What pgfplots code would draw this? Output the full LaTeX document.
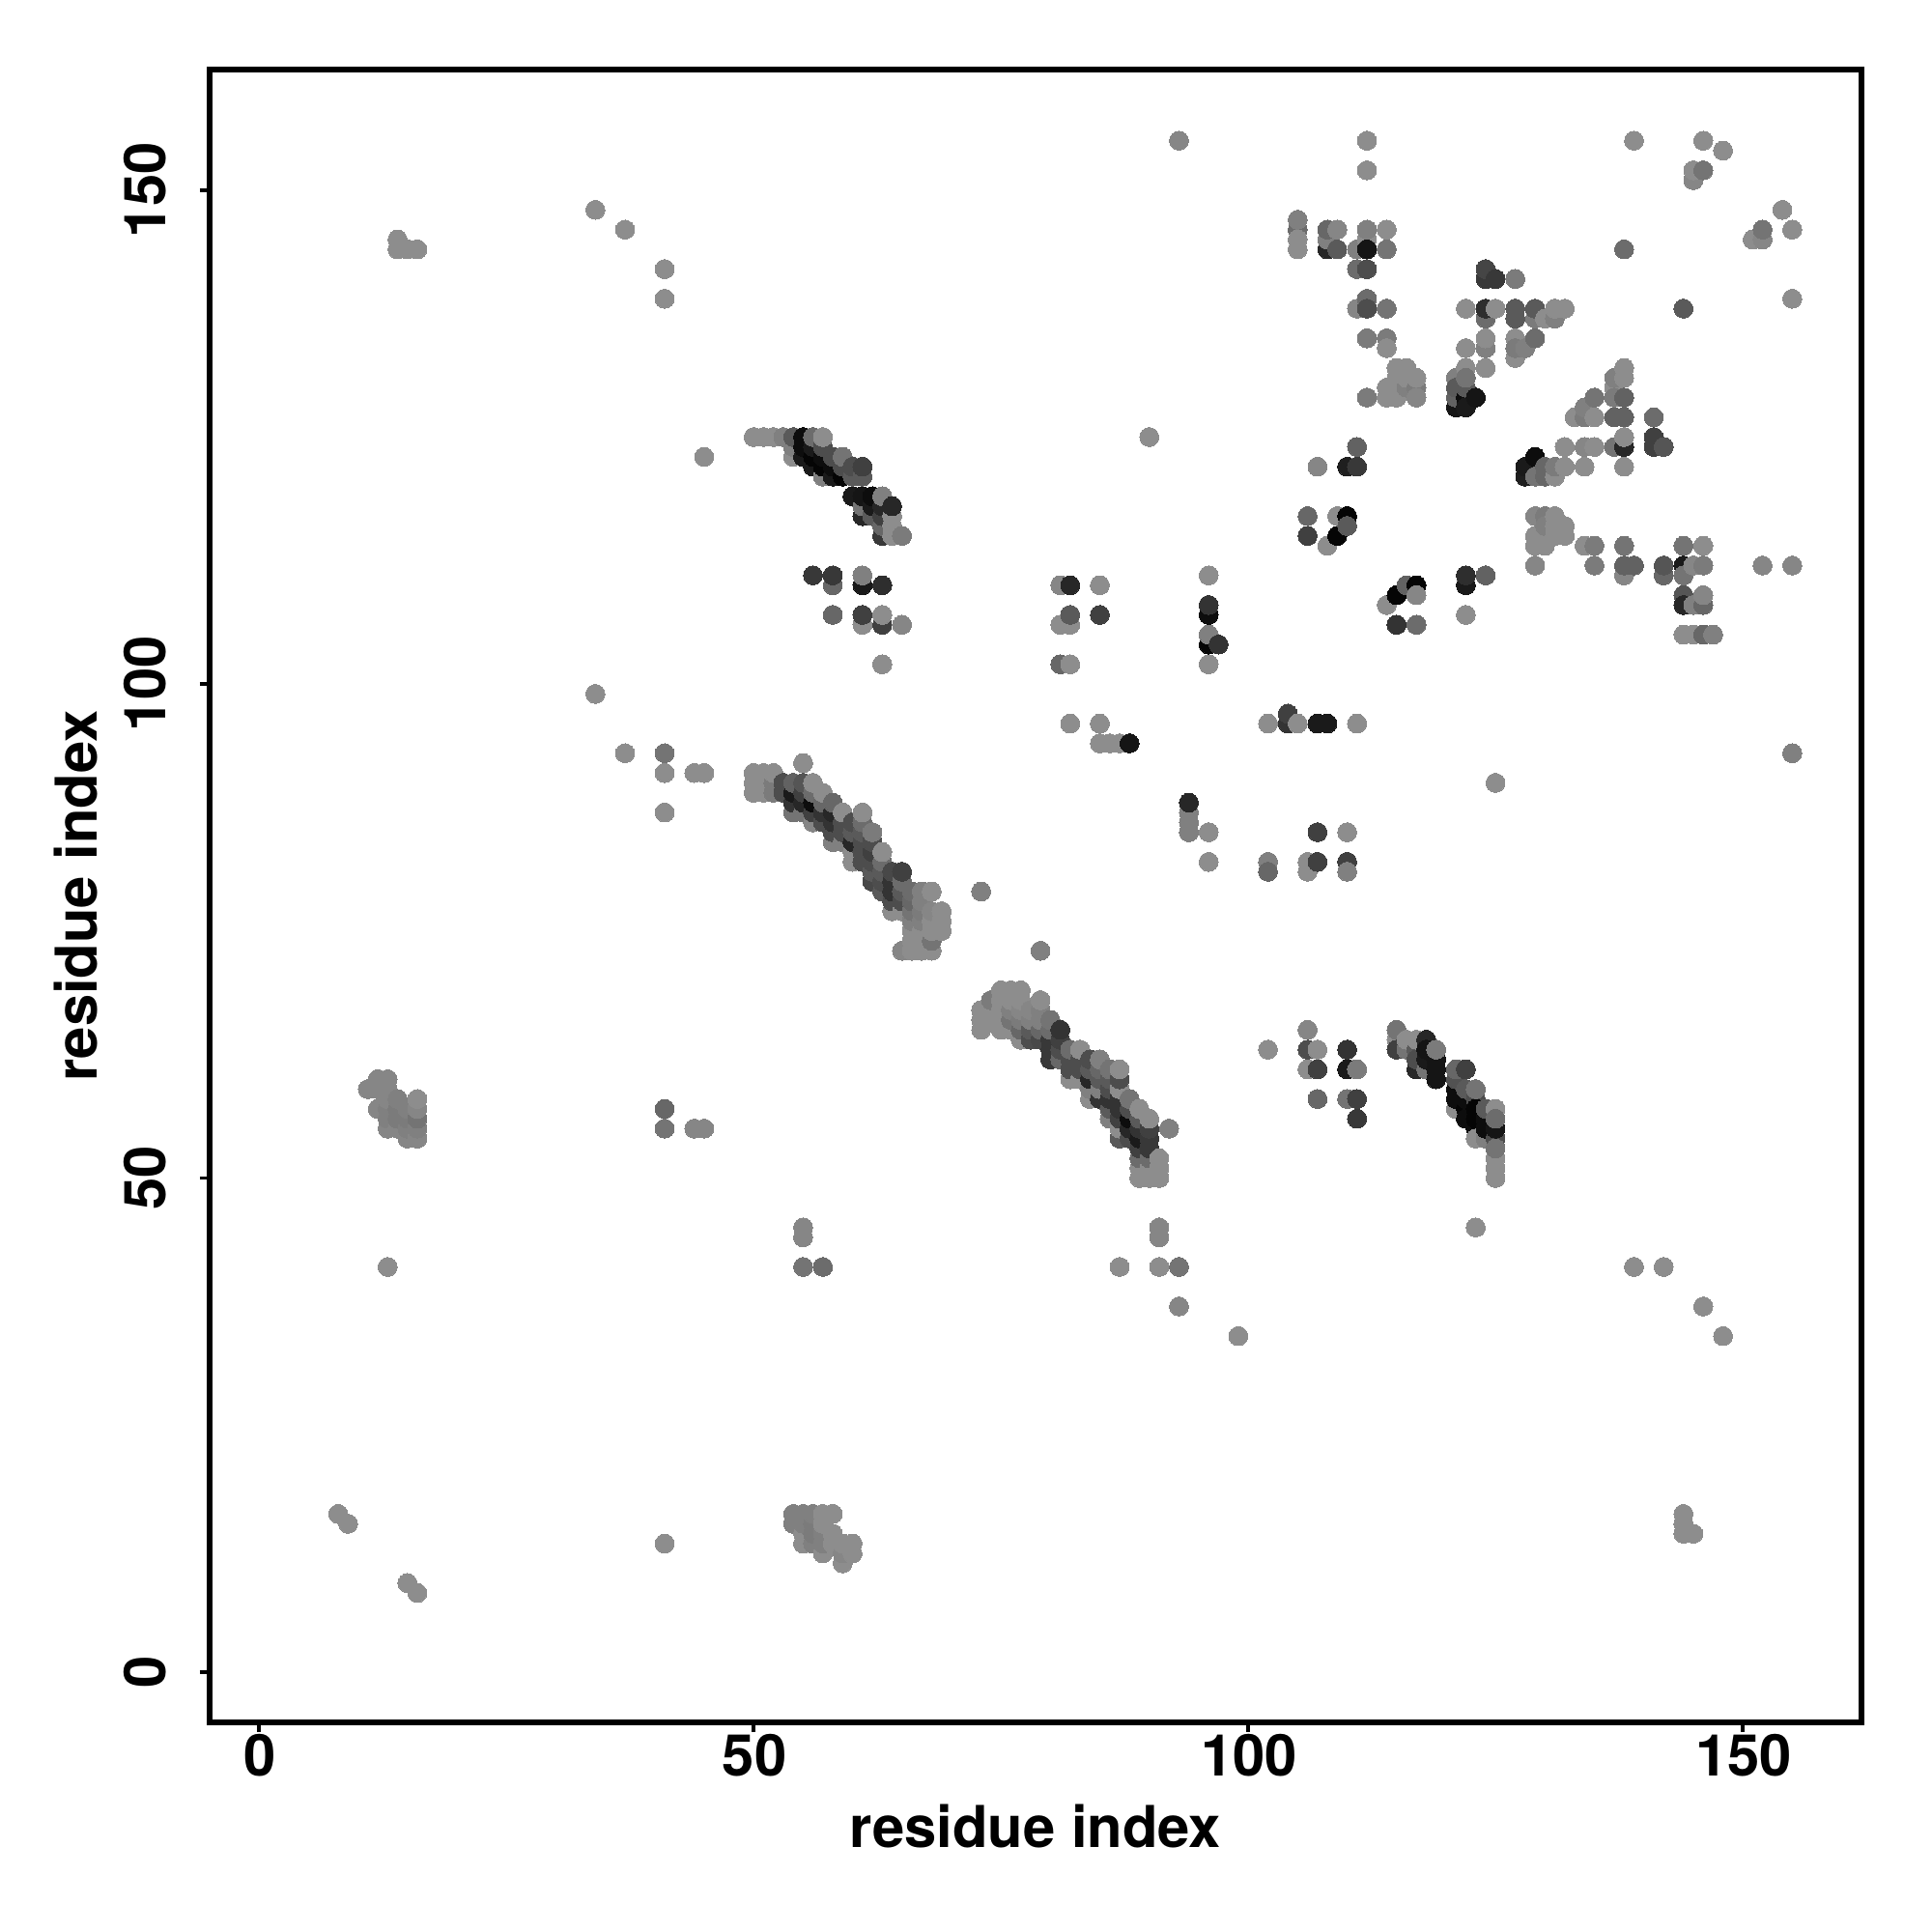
\documentclass[border=0pt]{standalone}
\usepackage{fontspec}
\setmainfont{TeX Gyre Heros}
\usepackage{pgfplots}
\usepackage{pgfplotstable}
\pgfplotsset{compat=1.18}
\pgfplotstableread[row sep=\\]{
x y g\\
8 16 55\\ 9 15 55\\ 15 9 55\\ 16 8 55\\ 13 41 55\\ 41 13 55\\
54 16 50\\ 55 16 50\\ 56 16 50\\ 57 16 55\\ 58 16 55\\ 54 15 50\\ 55 15 50\\ 56 15 48\\ 57 15 55\\
55 14 55\\ 56 14 48\\ 57 14 50\\ 58 14 55\\ 55 13 55\\ 56 13 50\\ 57 13 50\\ 58 13 55\\ 59 13 55\\ 60 13 55\\
57 12 55\\ 59 12 52\\ 60 12 55\\ 59 11 55\\
11 59 52\\ 12 60 52\\ 12 59 52\\ 12 57 52\\ 13 60 52\\ 13 59 52\\ 13 58 52\\ 13 57 50\\ 13 56 50\\ 13 55 52\\
14 58 50\\ 14 57 48\\ 14 56 48\\ 14 55 52\\ 15 57 50\\ 15 56 48\\ 15 55 50\\ 15 54 52\\
16 58 55\\ 16 57 52\\ 16 56 45\\ 16 55 50\\ 16 54 52\\
14 145 55\\ 14 144 55\\ 15 144 55\\ 16 144 55\\ 34 148 55\\ 37 146 55\\ 41 142 55\\ 41 139 55\\
34 99 55\\ 37 93 55\\ 41 93 45\\ 41 91 55\\ 44 91 55\\ 45 91 55\\ 41 87 55\\ 45 123 55\\
41 57 40\\ 41 55 45\\ 44 55 52\\ 45 55 52\\ 55 45 52\\ 55 44 52\\ 55 41 45\\ 57 41 42\\
87 41 55\\ 91 45 52\\ 91 44 52\\ 91 41 55\\ 93 41 45\\ 93 37 52\\ 99 34 55\\ 123 45 55\\
139 41 55\\ 142 41 55\\ 146 37 55\\ 148 34 55\\ 144 16 55\\ 144 15 55\\ 144 14 55\\ 145 14 55\\
92 55 50\\ 73 79 50\\ 79 73 50\\ 125 90 55\\ 155 93 50\\ 55 92 55\\ 90 125 55\\ 93 155 52\\
112 155 55\\ 112 152 55\\ 139 155 55\\ 146 155 55\\ 148 154 55\\ 145 152 55\\ 146 152 45\\ 145 151 52\\
151 145 55\\ 152 145 52\\ 152 146 45\\ 154 148 55\\ 155 146 55\\ 155 139 55\\ 138 144 42\\ 144 138 35\\
105 147 50\\ 105 146 42\\ 105 145 55\\ 105 144 55\\
108 146 40\\ 108 145 50\\ 108 144 15\\ 109 146 52\\ 109 144 35\\ 111 144 50\\ 112 146 50\\ 112 145 55\\ 112 144 8\\ 114 146 55\\ 114 144 45\\
111 142 42\\ 112 142 30\\ 112 139 42\\ 111 138 52\\ 112 138 30\\ 114 138 45\\ 112 135 48\\ 114 135 48\\ 114 134 55\\
112 129 48\\ 114 130 55\\ 114 129 55\\ 115 132 55\\ 115 131 55\\ 115 129 55\\ 116 132 55\\ 116 131 55\\ 116 130 50\\ 117 131 55\\ 117 130 48\\ 117 129 52\\
124 142 27\\ 124 141 22\\ 125 141 22\\ 127 141 48\\
122 138 55\\ 124 138 18\\ 125 138 55\\ 127 138 35\\ 129 138 35\\ 131 138 55\\ 132 138 55\\
124 137 42\\ 127 137 35\\ 129 137 48\\ 130 137 55\\ 131 137 50\\
124 135 55\\ 127 135 55\\ 129 135 42\\ 122 134 55\\ 124 134 50\\ 127 134 48\\ 128 134 50\\ 127 133 55\\ 122 132 55\\ 124 132 55\\
121 131 50\\ 122 131 45\\ 121 130 35\\ 122 130 35\\ 121 129 38\\ 122 129 5\\ 123 129 8\\ 121 128 8\\ 122 128 10\\
138 132 55\\ 138 131 55\\ 137 131 50\\ 137 130 55\\ 138 129 38\\ 137 129 48\\ 135 129 45\\ 134 128 50\\ 133 127 55\\ 134 127 48\\ 135 127 55\\ 137 127 38\\ 138 127 38\\ 141 127 42\\
138 125 55\\ 132 124 55\\ 134 124 52\\ 135 124 55\\ 137 124 45\\ 138 124 15\\ 141 125 25\\ 141 124 25\\ 142 124 33\\
129 123 5\\ 128 122 10\\ 129 122 10\\ 130 122 40\\ 131 122 48\\ 132 122 55\\ 134 122 55\\ 138 122 55\\ 128 121 12\\ 129 121 45\\ 130 121 40\\ 131 121 55\\
129 117 52\\ 130 117 48\\ 131 117 55\\ 130 116 50\\ 131 116 55\\ 132 116 55\\ 129 115 55\\ 131 115 55\\ 132 115 55\\ 129 114 55\\ 130 114 55\\ 134 114 55\\ 135 114 48\\ 138 114 45\\ 144 114 45\\ 146 114 55\\
129 112 52\\ 135 112 48\\ 138 112 38\\ 139 112 38\\ 142 112 33\\ 144 112 10\\ 145 112 52\\ 146 112 48\\ 138 111 52\\ 142 111 40\\ 144 111 45\\ 152 112 52\\ 155 112 52\\
144 109 33\\ 146 109 52\\ 144 108 15\\ 145 108 50\\ 146 108 40\\ 144 105 55\\ 145 105 55\\ 146 105 40\\ 147 105 50\\
111 124 38\\ 110 122 12\\ 111 122 22\\ 107 122 52\\ 109 117 55\\ 110 117 2\\ 110 116 35\\ 109 115 2\\ 108 114 55\\ 106 117 40\\ 106 115 25\\
115 109 2\\ 114 108 55\\ 116 110 38\\ 117 110 2\\ 117 109 52\\ 115 106 20\\ 117 106 42\\ 122 111 18\\ 122 110 10\\ 124 111 38\\ 122 107 55\\
56 111 22\\ 58 111 22\\ 58 110 40\\ 61 111 50\\ 61 110 10\\ 63 110 18\\ 58 107 40\\ 61 107 25\\ 61 106 55\\ 63 107 55\\ 63 106 25\\ 65 106 52\\ 63 102 55\\
50 125 55\\ 51 125 55\\ 52 125 55\\ 53 125 50\\ 54 125 35\\ 55 125 5\\ 56 125 42\\ 57 125 55\\
54 124 50\\ 55 124 5\\ 56 124 10\\ 57 124 30\\ 54 123 55\\ 55 123 10\\ 56 123 2\\ 57 123 5\\ 58 123 30\\ 59 123 45\\
56 122 10\\ 57 122 2\\ 58 122 5\\ 59 122 30\\ 60 122 30\\ 61 122 25\\ 57 121 50\\ 58 121 10\\ 59 121 2\\ 60 121 35\\ 61 121 35\\
60 119 10\\ 61 119 8\\ 62 119 5\\ 63 119 50\\ 61 118 45\\ 62 118 10\\ 63 118 15\\ 64 118 15\\ 61 117 15\\ 62 117 35\\ 63 117 25\\ 64 117 55\\ 63 116 40\\ 64 116 55\\ 63 115 22\\ 64 115 55\\ 65 115 48\\
50 91 55\\ 51 91 55\\ 52 91 55\\ 50 90 55\\ 51 90 55\\ 52 90 48\\ 53 90 30\\ 54 90 38\\ 55 90 33\\ 56 90 55\\
50 89 55\\ 51 89 55\\ 52 89 48\\ 53 89 30\\ 54 89 10\\ 55 89 25\\ 56 89 42\\ 57 89 55\\ 54 88 20\\ 55 88 15\\ 56 88 5\\ 57 88 40\\ 58 88 40\\
54 87 45\\ 55 87 45\\ 56 87 25\\ 57 87 20\\ 58 87 15\\ 59 87 55\\ 61 87 55\\ 56 86 52\\ 57 86 30\\ 58 86 20\\ 59 86 30\\ 60 86 30\\ 61 86 42\\
58 85 30\\ 59 85 30\\ 60 85 35\\ 61 85 35\\ 62 85 48\\ 58 84 50\\ 59 84 50\\ 60 84 15\\ 61 84 30\\ 62 84 30\\ 60 83 55\\ 61 83 30\\ 62 83 25\\ 63 83 55\\
60 82 55\\ 61 82 30\\ 62 82 30\\ 63 82 42\\ 62 81 35\\ 63 81 35\\ 64 81 28\\ 65 81 25\\ 62 80 28\\ 63 80 30\\ 64 80 20\\ 65 80 42\\
63 79 35\\ 64 79 20\\ 65 79 35\\ 66 79 42\\ 67 79 50\\ 68 79 55\\ 64 78 30\\ 65 78 30\\ 66 78 40\\ 67 78 50\\
64 77 55\\ 65 77 55\\ 66 77 45\\ 67 77 48\\ 68 77 52\\ 69 77 55\\ 66 76 50\\ 67 76 50\\ 68 76 55\\ 69 76 55\\ 66 75 55\\ 67 75 55\\ 68 75 55\\ 69 75 55\\ 66 74 55\\ 67 74 55\\ 68 74 45\\ 65 73 52\\ 66 73 55\\ 67 73 55\\ 68 73 55\\
75 69 55\\ 76 69 55\\ 77 69 55\\ 74 68 48\\ 75 68 55\\ 76 68 55\\ 77 68 55\\ 79 68 55\\
73 67 55\\ 74 67 55\\ 75 67 55\\ 76 67 50\\ 77 67 52\\ 78 67 52\\ 79 67 50\\ 73 66 55\\ 74 66 55\\ 75 66 55\\ 76 66 45\\ 77 66 48\\ 78 66 50\\ 79 66 50\\ 80 66 45\\
73 65 55\\ 75 65 55\\ 76 65 55\\ 77 65 40\\ 78 65 35\\ 79 65 40\\ 80 65 42\\ 81 65 20\\ 77 64 55\\ 78 64 30\\ 79 64 28\\ 80 64 22\\ 81 64 25\\
80 63 22\\ 81 63 30\\ 82 63 42\\ 83 63 55\\ 80 62 22\\ 81 62 40\\ 82 62 30\\ 83 62 30\\ 84 62 30\\ 85 62 50\\
82 61 30\\ 83 61 30\\ 84 61 35\\ 85 61 40\\ 86 61 45\\ 87 61 55\\ 82 60 55\\ 83 60 55\\ 84 60 15\\ 85 60 35\\ 86 60 35\\ 87 60 30\\
84 59 50\\ 85 59 50\\ 86 59 30\\ 87 59 55\\ 84 58 55\\ 85 58 20\\ 86 58 20\\ 87 58 20\\ 88 58 45\\ 86 57 35\\ 87 57 20\\ 88 57 30\\ 89 57 55\\
86 56 50\\ 87 56 25\\ 88 56 5\\ 89 56 35\\ 90 56 55\\ 87 55 55\\ 88 55 15\\ 89 55 20\\ 90 55 25\\ 87 54 35\\ 88 54 30\\ 89 54 10\\ 90 54 22\\
89 53 25\\ 90 53 22\\ 89 52 42\\ 90 52 42\\ 91 52 55\\ 89 51 55\\ 90 51 55\\ 91 51 55\\ 89 50 55\\ 90 50 55\\ 91 50 55\\
102 63 55\\ 106 65 52\\ 106 63 30\\ 107 63 55\\ 106 61 55\\ 107 61 25\\ 110 63 20\\ 110 61 10\\ 111 61 48\\ 107 58 40\\ 110 58 45\\ 111 58 25\\ 111 56 22\\
115 65 45\\ 115 64 55\\ 116 64 55\\ 117 64 55\\ 118 64 15\\ 115 63 25\\ 116 63 45\\ 117 63 35\\ 118 63 8\\ 119 63 48\\ 117 62 30\\ 118 62 10\\ 119 62 8\\ 117 61 15\\ 118 61 45\\ 119 61 8\\ 119 60 8\\ 121 61 40\\ 122 61 25\\ 121 60 32\\
121 59 5\\ 122 59 35\\ 123 59 45\\ 121 58 5\\ 122 58 5\\ 123 58 30\\ 121 57 55\\ 122 57 2\\ 123 57 2\\ 124 57 35\\ 125 57 55\\ 122 56 5\\ 123 56 2\\ 124 56 5\\ 125 56 42\\ 123 55 5\\ 124 55 5\\ 125 55 8\\ 123 54 55\\ 124 54 50\\ 125 54 30\\ 125 53 45\\ 125 52 55\\ 125 51 55\\ 125 50 55\\
81 110 52\\ 82 110 15\\ 85 110 55\\ 82 107 35\\ 81 106 55\\ 82 106 55\\ 85 107 25\\ 81 102 40\\ 82 102 55\\ 82 96 55\\ 85 96 55\\ 85 94 55\\ 86 94 55\\ 87 94 55\\ 88 94 8\\
96 111 55\\ 96 108 20\\ 96 107 5\\ 96 105 50\\ 96 104 2\\ 97 104 20\\ 96 102 55\\
102 96 55\\ 104 97 25\\ 104 96 20\\ 105 96 55\\ 107 96 10\\ 108 96 10\\ 111 96 55\\
94 88 15\\ 94 87 50\\ 94 86 50\\ 94 85 50\\ 96 85 55\\ 96 82 55\\
102 82 50\\ 102 81 40\\ 106 82 55\\ 106 81 55\\ 107 85 25\\ 107 82 25\\ 110 85 55\\ 110 82 25\\ 110 81 50\\
}\rawdata
\pgfplotstablecreatecol[expr={\thisrow{x}*1000+\thisrow{y}}]{k}\rawdata
\pgfplotstablesort[sort key=k]\sorteddata\rawdata
\begin{document}
\begin{tikzpicture}
\path[use as bounding box] (-2.17cm,-2.17cm) rectangle (17.83cm,17.83cm);
\begin{axis}[
  at={(0cm,0cm)}, anchor=south west,
  scale only axis, width=17.1cm, height=17.11cm,
  xmin=-5, xmax=162, ymin=-5.1, ymax=162.2,
  xtick={0,50,100,150}, ytick={0,50,100,150},
  tick pos=left, tick align=outside,
  major tick length=1mm,
  axis line style={line width=1.7pt},
  every tick/.style={black,line width=1.1pt},
  /pgf/number format/assume math mode=true,
  tick label style={font=\fontsize{17}{19}\selectfont\bfseries},
  xticklabel style={anchor=center,xshift=0.01cm,yshift=-0.24cm},
  yticklabel style={anchor=center,xshift=-0.57cm,rotate=90},
  xlabel={residue index}, ylabel={residue index},
  every axis x label/.style={at={(axis description cs:0.5,0)},anchor=center,yshift=-1.08cm,font=\fontsize{17}{20}\selectfont\bfseries},
  every axis y label/.style={at={(axis description cs:0,0.5)},anchor=center,xshift=-1.38cm,rotate=90,font=\fontsize{17}{20}\selectfont\bfseries},
  colormap={graylevels}{gray(0cm)=(0); gray(1cm)=(1)},
  point meta min=0, point meta max=100,
]
\addplot[only marks, scatter, point meta=explicit, mark=*, mark size=2.8pt,
  scatter/use mapped color={draw=mapped color,fill=mapped color},
  mark options={line width=0pt}]
  table[x=x,y=y,meta=g]{\sorteddata};
\end{axis}
\end{tikzpicture}
\end{document}
